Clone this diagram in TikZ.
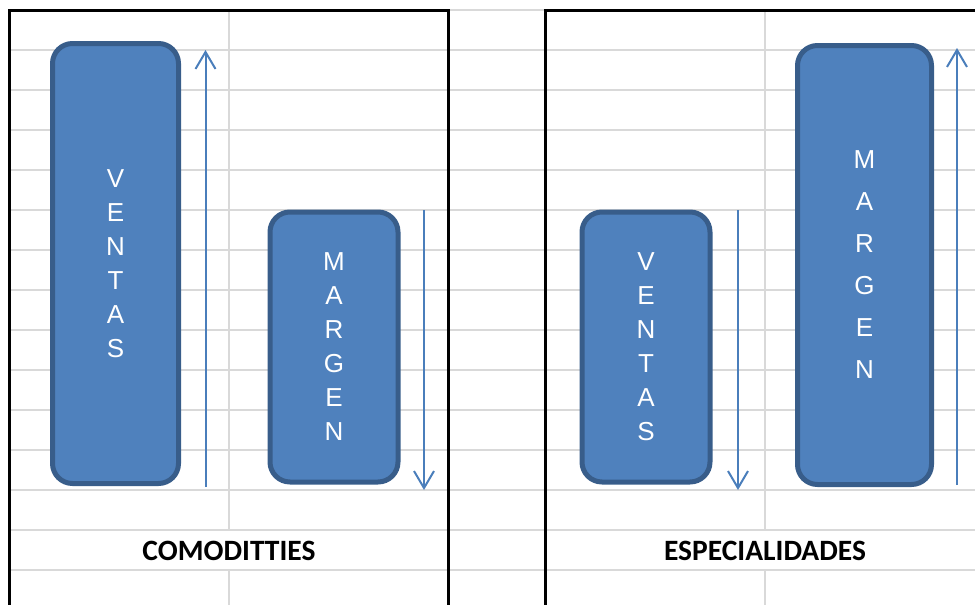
\documentclass[tikz,border=0pt]{standalone}
\usepackage{fontspec}
\setmainfont{Liberation Sans}
\newfontfamily\headfont{Carlito}
\usetikzlibrary{arrows.meta}

\definecolor{cellgray}{HTML}{D9D9D9}
\definecolor{barfill}{HTML}{4F81BD}
\definecolor{barline}{HTML}{385D8A}
\definecolor{trendblue}{HTML}{4A7EBB}

\begin{document}
\begin{tikzpicture}[x=1pt, y=-1pt,
  cell/.style={cellgray, line width=2pt},
  border/.style={black, line width=3pt},
  bar/.style={rectangle, rounded corners=20pt, draw=barline, fill=barfill,
    line width=5pt, text=white, inner sep=0pt, align=center,
    font=\fontsize{26}{34}\selectfont},
  trend/.style={trendblue, line width=2pt,
    -{Straight Barb[length=17pt, width=20pt]}},
  head/.style={font=\headfont\bfseries\fontsize{29.5}{32}\selectfont}
]
\useasboundingbox (0,0) rectangle (975,605);

% --- sheet grid ---
\foreach \y in {50,90,...,570}
  \draw[cell] (9,\y) -- (975,\y);
\draw[cell] (448,10) -- (545,10);
\foreach \x in {229,765} {
  \draw[cell] (\x,10) -- (\x,530);
  \draw[cell] (\x,570) -- (\x,605);
}

% --- block borders ---
\draw[border] (9,605) -- (9,10) -- (448,10) -- (448,605);
\draw[border] (545,605) -- (545,10) -- (975,10);

% --- bars ---
\node[bar, minimum width=126pt, minimum height=440pt] (ventasA) at (115.5,263.5)
  {V\\E\\N\\T\\A\\S};
\node[bar, minimum width=128pt, minimum height=270pt] (margenA) at (334,347)
  {M\\A\\R\\G\\E\\N};
\node[bar, minimum width=128pt, minimum height=270pt] (ventasB) at (646,347)
  {V\\E\\N\\T\\A\\S};
\node[bar, minimum width=134pt, minimum height=439pt,
  font=\fontsize{26}{42}\selectfont] (margenB) at (864.5,265)
  {M\\A\\R\\G\\E\\N};

% --- trend arrows ---
\coordinate (upA0) at (205.5,487);   \coordinate (upA1) at (205.5,50);
\coordinate (downA0) at (424,210);   \coordinate (downA1) at (424,490);
\coordinate (downB0) at (738,210);   \coordinate (downB1) at (738,490);
\coordinate (upB0) at (957,485);     \coordinate (upB1) at (957,48);

\draw[trend] (upA0) -- (upA1);
\draw[trend] (downA0) -- (downA1);
\draw[trend] (downB0) -- (downB1);
\draw[trend] (upB0) -- (upB1);

% --- block titles ---
\node[head] (comod) at (229,551) {COMODITTIES};
\node[head] (espec) at (765,551) {ESPECIALIDADES};

\end{tikzpicture}
\end{document}
